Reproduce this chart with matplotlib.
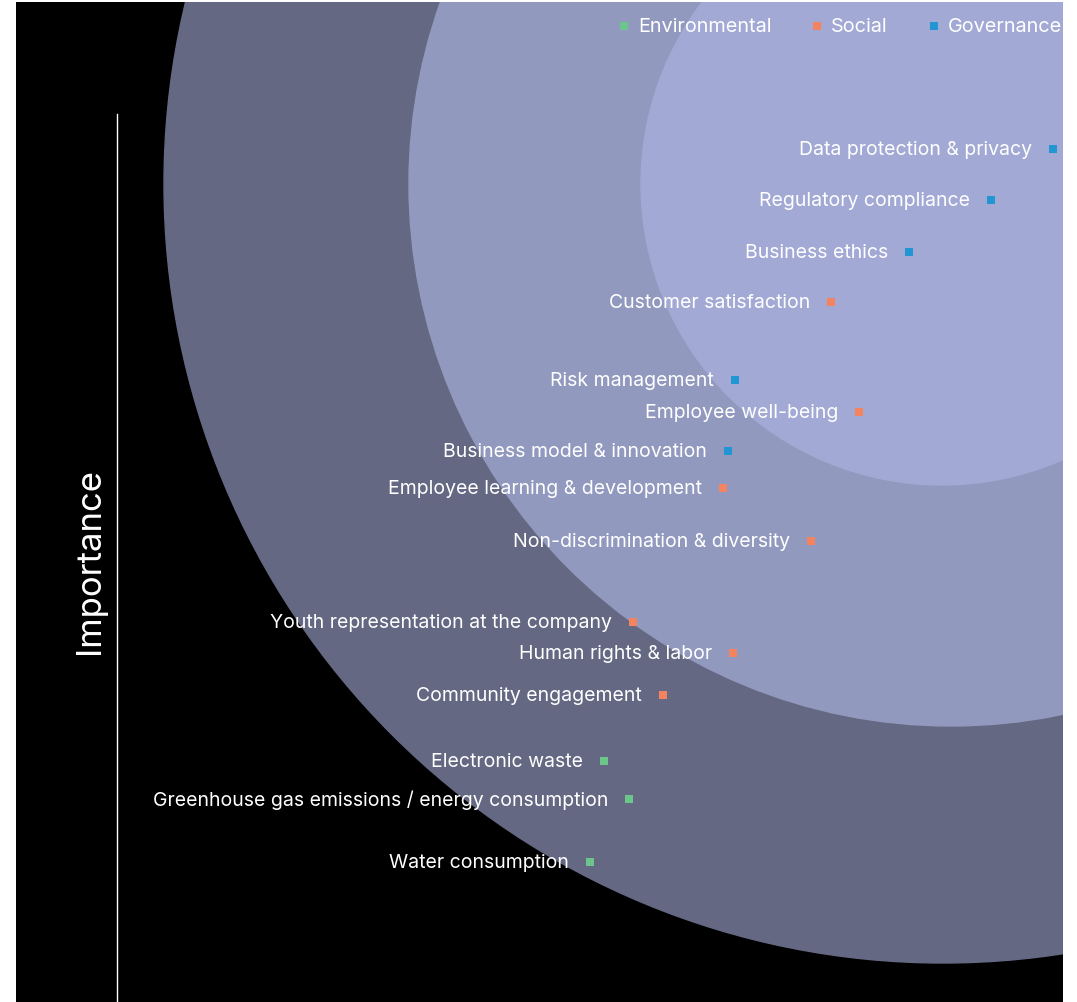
import matplotlib.pyplot as plt
from matplotlib.patches import Circle

plt.rcParams['font.family'] = ['Inter', 'DejaVu Sans']

# ---- data (x = impact, y = importance; 1 unit = 10 px) ----
topics = ['Data protection & privacy', 'Regulatory compliance', 'Business ethics',
          'Customer satisfaction', 'Risk management', 'Employee well-being',
          'Business model & innovation', 'Employee learning & development',
          'Non-discrimination & diversity', 'Youth representation at the company',
          'Human rights & labor', 'Community engagement', 'Electronic waste',
          'Greenhouse gas emissions / energy consumption', 'Water consumption']
impact = [103.7, 97.5, 89.3, 81.5, 71.9, 84.3, 71.2, 70.7, 79.5, 61.7, 71.7, 64.7, 58.8, 61.3, 57.4]
importance = [85.5, 80.4, 75.2, 70.2, 62.4, 59.2, 55.3, 51.6, 46.3, 38.2, 35.1, 30.9, 24.3, 20.5, 14.2]
group = ['G', 'G', 'G', 'S', 'G', 'S', 'G', 'S', 'S', 'S', 'S', 'S', 'E', 'E', 'E']

group_names = {'E': 'Environmental', 'S': 'Social', 'G': 'Governance'}
group_colors = {'E': '#6cc68b', 'S': '#f4845f', 'G': '#2196d3'}

# rings: centre x, centre y, radius, colour
rings_cx = [92.7, 93.5, 92.6]
rings_cy = [82.0, 82.0, 82.0]
rings_r = [77.9, 54.2, 30.1]
rings_col = ['#646882', '#9299be', '#a2a9d4']

fig = plt.figure(figsize=(10.77, 10.03), dpi=100)
fig.patch.set_facecolor('white')
ax = fig.add_axes([16 / 1077, 0, 1047 / 1077, 1000 / 1003])
ax.set_xlim(0, 104.7)
ax.set_ylim(0.2, 100.2)
ax.set_aspect('equal')
ax.axis('off')
ax.add_patch(plt.Rectangle((-5, -5), 115, 110, color='black', zorder=0))

for cx, cy, r, c in zip(rings_cx, rings_cy, rings_r, rings_col):
    ax.add_patch(Circle((cx, cy), r, color=c, zorder=1))

for t, x, y, g in zip(topics, impact, importance, group):
    ax.scatter(x, y, marker='s', s=28, color=group_colors[g], zorder=3, linewidths=0)
    ax.annotate(t, (x, y), xytext=(-15, 0), textcoords='offset points',
                ha='right', va='center', color='white', fontsize=14, zorder=4)

# legend
leg_x = [60.8, 80.1, 91.8]
for lx, g in zip(leg_x, ['E', 'S', 'G']):
    ax.scatter(lx, 97.8, marker='s', s=28, color=group_colors[g], zorder=3, linewidths=0)
    ax.text(lx + 1.4, 97.8, group_names[g], ha='left', va='center', color='white',
            fontsize=14.3, zorder=4, clip_on=True)

# importance axis
ax.plot([10.1, 10.1], [-1, 89], color='white', lw=1, zorder=3)
ax.text(7.4, 44.4, 'Importance', rotation=90, ha='center', va='center',
        color='white', fontsize=25, zorder=4)

fig.savefig('out.png', dpi=100, facecolor='white')
